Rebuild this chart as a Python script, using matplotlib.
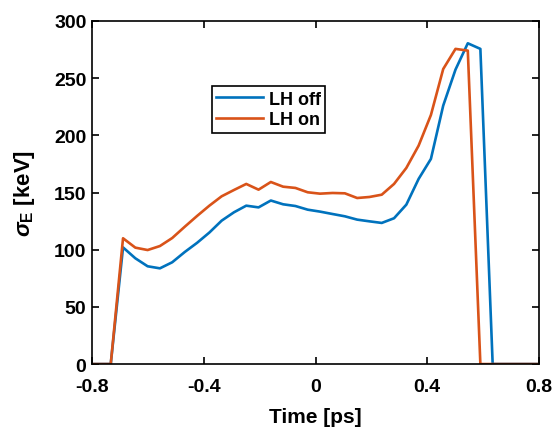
import matplotlib
matplotlib.use("Agg")
import matplotlib.pyplot as plt

plt.rcParams['font.family'] = ['Liberation Sans', 'DejaVu Sans']
plt.rcParams['font.weight'] = 'bold'
plt.rcParams['mathtext.fontset'] = 'custom'
plt.rcParams['mathtext.rm'] = 'Liberation Sans:bold'
plt.rcParams['mathtext.it'] = 'Liberation Sans:italic'
plt.rcParams['mathtext.bf'] = 'Liberation Sans:bold'

# time grid (ps)
t_off = [-0.8, -0.733, -0.689, -0.645, -0.601, -0.557, -0.513, -0.468, -0.424,
         -0.380, -0.336, -0.292, -0.248, -0.204, -0.160, -0.116, -0.072, -0.028,
         0.016, 0.061, 0.105, 0.149, 0.193, 0.237, 0.281, 0.325, 0.369, 0.413,
         0.457, 0.501, 0.545, 0.590, 0.634, 0.8]
sigma_off = [0, 0, 102, 92.5, 85.5, 83.7, 89, 98, 106, 115, 125.4, 132.7, 138.5,
             137, 143, 139.7, 138.2, 135, 133.3, 131.2, 129.2, 126.3, 124.8,
             123.4, 127.5, 139.4, 161.9, 179.4, 226, 257.5, 280.5, 275.6, 0, 0]

t_on = [-0.8, -0.733, -0.689, -0.645, -0.601, -0.557, -0.513, -0.468, -0.424,
        -0.380, -0.336, -0.292, -0.248, -0.204, -0.160, -0.116, -0.072, -0.028,
        0.016, 0.061, 0.105, 0.149, 0.193, 0.237, 0.281, 0.325, 0.369, 0.413,
        0.457, 0.501, 0.545, 0.590, 0.8]
sigma_on = [0, 0, 110, 101.8, 99.7, 103.2, 110.2, 120.1, 129.5, 138.5, 146.7,
            152.2, 157.5, 152.5, 159.2, 155.1, 154, 150.2, 149, 149.6, 149.3,
            145.2, 146.1, 148.1, 157.5, 171.5, 191, 217.8, 258, 275.6, 274.1, 0, 0]

xticks = [-0.8, -0.4, 0, 0.4, 0.8]
xticklabels = ['-0.8', '-0.4', '0', '0.4', '0.8']
yticks = [0, 50, 100, 150, 200, 250, 300]

fig = plt.figure(figsize=(5.56, 4.31), dpi=100)
ax = fig.add_axes([0.1655, 0.153, 0.804, 0.796])

ax.plot(t_off, sigma_off, color='#0072BD', lw=1.9, label='LH off')
ax.plot(t_on, sigma_on, color='#D95319', lw=1.9, label='LH on')

ax.set_xlim(-0.8, 0.8)
ax.set_ylim(0, 300)
ax.set_xticks(xticks)
ax.set_xticklabels(xticklabels)
ax.set_yticks(yticks)
ax.tick_params(direction='in', length=5, width=1.2, labelsize=14,
               top=True, right=True, pad=4)
ax.tick_params(axis='x', pad=10)
for s in ax.spines.values():
    s.set_linewidth(1.2)

ax.set_xlabel('Time [ps]', fontsize=15, fontweight='bold', labelpad=9)
ax.set_ylabel(r'$\sigma_{\mathbf{E}}$ [keV]', fontsize=16, fontweight='bold', labelpad=12)

leg = ax.legend(loc='upper left', bbox_to_anchor=(0.268, 0.81), fontsize=13,
                fancybox=False, edgecolor='black', framealpha=1,
                handlelength=2.6, handletextpad=0.3, borderpad=0.25,
                labelspacing=0.2, borderaxespad=0)
leg.get_frame().set_linewidth(1.2)
for txt in leg.get_texts():
    txt.set_fontweight('bold')

fig.savefig('out.png', dpi=100)
